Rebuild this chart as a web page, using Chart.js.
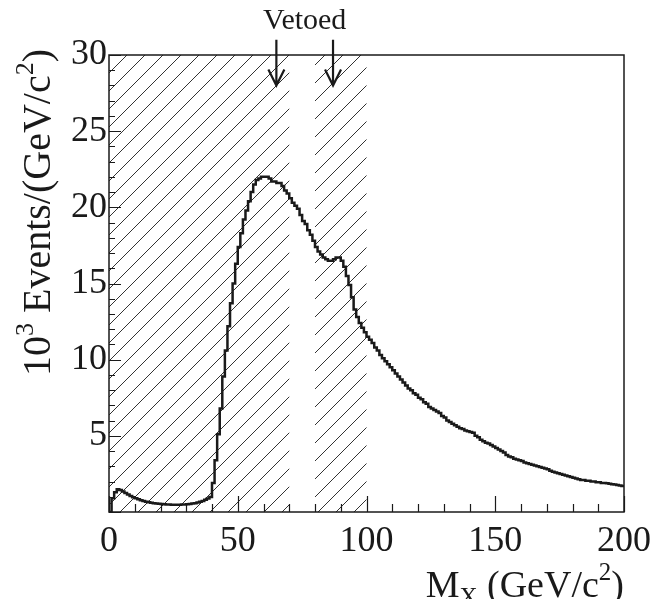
<!DOCTYPE html>
<html>
<head>
<meta charset="utf-8">
<script src="https://cdn.jsdelivr.net/npm/chart.js@4/dist/chart.umd.min.js"></script>
<style>
  html, body { margin: 0; padding: 0; background: #fff; }
  #wrap { width: 654px; height: 599px; }
</style>
</head>
<body>
<div id="wrap"><canvas id="c" width="654" height="599"></canvas></div>
<script>
// Histogram: 1 GeV/c^2 bins starting at M_X = 0; values in 10^3 events per bin
const eventsK = [
  0.0, 0.9, 1.3, 1.5, 1.45, 1.35, 1.25, 1.15, 1.05, 0.97,
  0.9, 0.83, 0.77, 0.72, 0.68, 0.64, 0.61, 0.58, 0.56, 0.54,
  0.52, 0.51, 0.5, 0.49, 0.48, 0.48, 0.48, 0.48, 0.49, 0.5,
  0.51, 0.53, 0.55, 0.58, 0.62, 0.67, 0.73, 0.8, 0.88, 0.98,
  1.9, 3.4, 5.1, 6.8, 8.9, 10.6, 12.2, 13.7, 15.0, 16.3,
  17.4, 18.3, 19.2, 19.8, 20.4, 21.0, 21.5, 21.8, 21.9, 22.0,
  22.0, 22.0, 21.9, 21.7, 21.7, 21.6, 21.6, 21.4, 21.1, 20.9,
  20.6, 20.3, 20.1, 19.9, 19.5, 19.1, 18.9, 18.5, 18.2, 17.8,
  17.4, 17.1, 16.9, 16.7, 16.6, 16.5, 16.5, 16.6, 16.7, 16.7,
  16.5, 16.1, 15.5, 14.9, 14.1, 13.3, 12.8, 12.4, 12.1, 11.8,
  11.5, 11.3, 11.1, 10.8, 10.6, 10.3, 10.1, 9.9, 9.7, 9.5,
  9.3, 9.1, 8.9, 8.7, 8.5, 8.3, 8.1, 8.0, 7.8, 7.7,
  7.5, 7.4, 7.2, 7.1, 6.9, 6.8, 6.7, 6.6, 6.5, 6.3,
  6.2, 6.0, 5.9, 5.8, 5.7, 5.6, 5.5, 5.45, 5.35, 5.3,
  5.25, 5.2, 5.0, 4.9, 4.75, 4.65, 4.55, 4.5, 4.4, 4.3,
  4.2, 4.1, 4.0, 3.9, 3.75, 3.65, 3.6, 3.5, 3.45, 3.4,
  3.35, 3.25, 3.2, 3.15, 3.1, 3.05, 3.0, 2.95, 2.9, 2.85,
  2.8, 2.7, 2.65, 2.6, 2.55, 2.5, 2.45, 2.4, 2.35, 2.3,
  2.25, 2.2, 2.15, 2.1, 2.1, 2.05, 2.05, 2.0, 2.0, 1.95,
  1.95, 1.9, 1.9, 1.88, 1.85, 1.82, 1.8, 1.77, 1.74, 1.7
];
const massRange = [0, 200];
const eventsRange = [0, 30];
const xTickLabels = [0, 50, 100, 150, 200];
const yTickLabels = [5, 10, 15, 20, 25, 30];
const vetoRegions = [[0, 70], [80, 100]];
const vetoArrowX = [65, 87];
const vetoArrowFrom = 31;   // y value where arrow starts (above frame)
const vetoArrowTip = 28;    // y value of arrow tip
const vetoLabel = "Vetoed";

const points = eventsK.map((v, i) => ({ x: i, y: v }));
points.push({ x: eventsK.length, y: eventsK[eventsK.length - 1] });

const SERIF = "'Liberation Serif', 'DejaVu Serif', serif";
const INK = '#1a1a1a';

function drawRich(ctx, segs, x, y) {
  // right-aligned at x, baseline y
  let total = 0;
  segs.forEach(s => { ctx.font = s.size + 'px ' + SERIF; total += ctx.measureText(s.t).width; });
  let cx = x - total;
  segs.forEach(s => {
    ctx.font = s.size + 'px ' + SERIF;
    ctx.fillText(s.t, cx, y + (s.dy || 0));
    cx += ctx.measureText(s.t).width;
  });
}

const rootStyle = {
  id: 'rootStyle',
  beforeDatasetsDraw(chart) {
    const { ctx, chartArea: a, scales: { x } } = chart;
    ctx.save();
    ctx.strokeStyle = '#333';
    ctx.lineWidth = 1;
    vetoRegions.forEach(([lo, hi]) => {
      const x0 = x.getPixelForValue(lo), x1 = x.getPixelForValue(hi);
      ctx.save();
      ctx.beginPath();
      ctx.rect(x0, a.top, x1 - x0, a.bottom - a.top);
      ctx.clip();
      const H = a.bottom - a.top;
      ctx.beginPath();
      for (let k = a.left - H; k < a.right + 20; k += 18) {
        ctx.moveTo(k, a.bottom);
        ctx.lineTo(k + H, a.top);
      }
      ctx.stroke();
      ctx.restore();
    });
    ctx.restore();
  },
  afterDatasetsDraw(chart) {
    const { ctx, chartArea: a, scales: { x, y } } = chart;
    ctx.save();
    // frame
    ctx.strokeStyle = INK;
    ctx.lineWidth = 1.5;
    ctx.strokeRect(a.left, a.top, a.right - a.left, a.bottom - a.top);
    // ticks (inward)
    ctx.lineWidth = 1.2;
    ctx.beginPath();
    y.ticks.forEach(t => {
      const py = Math.round(y.getPixelForValue(t.value)) + 0.5;
      const len = (t.value % 5 === 0) ? 12 : 6;
      ctx.moveTo(a.left, py); ctx.lineTo(a.left + len, py);
    });
    x.ticks.forEach(t => {
      const px = Math.round(x.getPixelForValue(t.value)) + 0.5;
      const len = (t.value % 50 === 0) ? 16 : 8;
      ctx.moveTo(px, a.bottom); ctx.lineTo(px, a.bottom - len);
    });
    ctx.stroke();
    // arrows
    ctx.lineWidth = 2.2;
    ctx.beginPath();
    vetoArrowX.forEach(v => {
      const px = x.getPixelForValue(v);
      const top = y.getPixelForValue(vetoArrowFrom);
      const tip = y.getPixelForValue(vetoArrowTip);
      ctx.moveTo(px, top); ctx.lineTo(px, tip);
      ctx.moveTo(px - 8, tip - 16); ctx.lineTo(px, tip); ctx.lineTo(px + 8, tip - 16);
    });
    ctx.stroke();
    // label
    ctx.fillStyle = INK;
    ctx.font = '30px ' + SERIF;
    ctx.textAlign = 'center';
    ctx.textBaseline = 'alphabetic';
    const mid = (x.getPixelForValue(vetoArrowX[0]) + x.getPixelForValue(vetoArrowX[1])) / 2;
    ctx.fillText(vetoLabel, mid, y.getPixelForValue(vetoArrowFrom) - 11);
    // x title
    ctx.textAlign = 'left';
    drawRich(ctx, [
      { t: 'M', size: 38 }, { t: 'X', size: 25, dy: 8 },
      { t: ' (GeV/c', size: 38 }, { t: '2', size: 25, dy: -17 }, { t: ')', size: 38 }
    ], a.right, 597);
    // y title
    ctx.save();
    ctx.translate(50, a.top - 6);
    ctx.rotate(-Math.PI / 2);
    drawRich(ctx, [
      { t: '10', size: 40 }, { t: '3', size: 26, dy: -17 },
      { t: ' Events/(GeV/c', size: 40 }, { t: '2', size: 26, dy: -17 }, { t: ')', size: 40 }
    ], 0, 0);
    ctx.restore();
    ctx.restore();
  }
};

new Chart(document.getElementById('c'), {
  type: 'line',
  data: {
    datasets: [{
      data: points,
      stepped: true,
      borderColor: INK,
      borderWidth: 2.5,
      pointRadius: 0,
      fill: false,
      tension: 0
    }]
  },
  options: {
    responsive: false,
    animation: false,
    events: [],
    layout: { padding: { top: 55, right: 30, left: 0, bottom: 0 } },
    plugins: { legend: { display: false }, tooltip: { enabled: false } },
    scales: {
      x: {
        type: 'linear',
        min: massRange[0], max: massRange[1],
        afterFit: s => { s.height = 87; s.paddingLeft = 0; s.paddingRight = 0; },
        grid: { display: false, drawTicks: false },
        border: { display: false },
        ticks: {
          stepSize: 10, autoSkip: false, maxRotation: 0, padding: 8,
          color: INK, font: { family: SERIF, size: 36 },
          callback: v => xTickLabels.includes(v) ? String(v) : ''
        }
      },
      y: {
        type: 'linear',
        min: eventsRange[0], max: eventsRange[1],
        afterFit: s => { s.width = 109; s.paddingTop = 0; s.paddingBottom = 0; },
        grid: { display: false, drawTicks: false },
        border: { display: false },
        ticks: {
          stepSize: 1, autoSkip: false, padding: 2,
          color: INK, font: { family: SERIF, size: 36 },
          callback: v => yTickLabels.includes(v) ? String(v) : ''
        }
      }
    }
  },
  plugins: [rootStyle]
});
</script>
</body>
</html>
